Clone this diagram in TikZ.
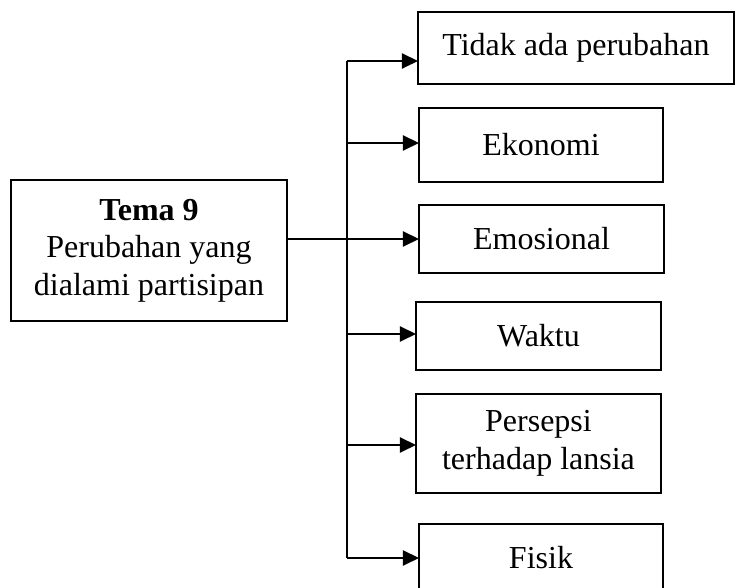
\documentclass[tikz,border=0pt]{standalone}
\usepackage{fontspec}
\setmainfont{Liberation Serif}
\usetikzlibrary{arrows.meta}
\tikzset{
  box/.style={draw=black, line width=1pt, inner sep=0pt, outer sep=0pt,
    align=center, font=\fontsize{16}{18.8}\selectfont},
  arr/.style={line width=1pt, -{Triangle[length=8pt,width=7.5pt]}},
  trunk/.style={line width=0.7pt},
  link/.style={line width=1pt}
}
\begin{document}
\begin{tikzpicture}[x=0.5pt, y=-0.5pt]
  \useasboundingbox (0,0) rectangle (736,588);

  % central theme
  \node[box, minimum width=138pt, minimum height=70.5pt] (tema) at (149,250.5)
    {\textbf{Tema 9}\\Perubahan yang\\dialami partisipan};

  % sub-themes
  \node[box, minimum width=158pt, minimum height=36pt] (b1) at (576,48) {Tidak ada perubahan};
  \node[box, minimum width=122pt, minimum height=37pt] (b2) at (541,145) {Ekonomi};
  \node[box, minimum width=122.5pt, minimum height=34pt] (b3) at (541.5,239) {Emosional};
  \node[box, minimum width=122.5pt, minimum height=34pt] (b4) at (538.5,336) {Waktu};
  \node[box, minimum width=122.5pt, minimum height=49.5pt] (b5) at (538.5,443.5) {Persepsi\\terhadap lansia};
  \node[box, minimum width=122pt, minimum height=34pt] (b6) at (541,558) {Fisik};

  % branch points on the vertical trunk
  \coordinate (v1) at (347,61);
  \coordinate (v2) at (347,143);
  \coordinate (v3) at (347,239);
  \coordinate (v4) at (347,334);
  \coordinate (v5) at (347,445);
  \coordinate (v6) at (347,558);

  \draw[trunk] (v1) -- (v6);
  \draw[link] (tema.east |- v3) -- (v3);
  \draw[arr] (v1) -- (v1 -| b1.west);
  \draw[arr] (v2) -- (v2 -| b2.west);
  \draw[arr] (v3) -- (v3 -| b3.west);
  \draw[arr] (v4) -- (v4 -| b4.west);
  \draw[arr] (v5) -- (v5 -| b5.west);
  \draw[arr] (v6) -- (v6 -| b6.west);
\end{tikzpicture}
\end{document}
